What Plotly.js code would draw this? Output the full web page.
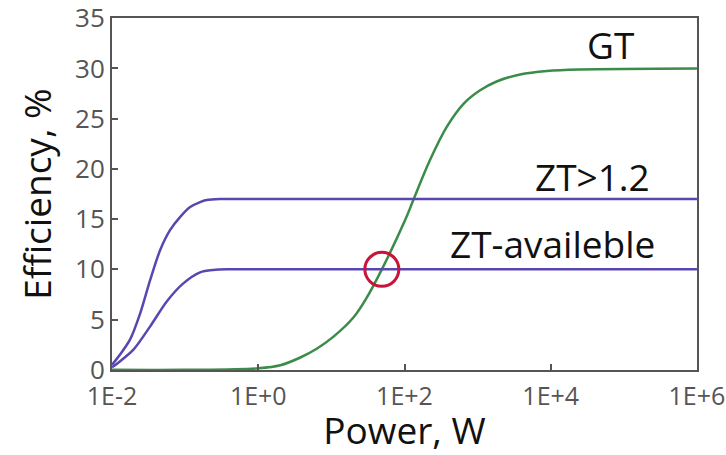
<!DOCTYPE html>
<html>
<head>
<meta charset="utf-8">
<script src="https://cdn.plot.ly/plotly-3.0.1.min.js"></script>
<style>html,body{margin:0;padding:0;background:#fff;}</style>
</head>
<body>
<div id="chart" style="width:726px;height:455px;"></div>
<script>
// Power (W) and efficiency (%)
const ztHighX = [0.01, 0.0128, 0.0176, 0.0242, 0.0331, 0.0454, 0.0621, 0.0851, 0.117, 0.160, 0.197, 0.30, 1, 1e6];
const ztHighY = [0.5, 1.5, 3.0, 5.6, 8.9, 11.9, 13.9, 15.2, 16.2, 16.7, 16.9, 17, 17, 17];

const ztAvailX = [0.01, 0.0128, 0.0196, 0.0331, 0.0560, 0.0944, 0.160, 0.243, 0.40, 1, 1e6];
const ztAvailY = [0.25, 0.83, 2.0, 4.3, 6.8, 8.6, 9.7, 9.94, 10, 10, 10];

const gtX = [0.01, 0.1, 1, 2, 3.7, 6.3, 10.7, 20, 30, 49, 102, 132, 224, 380, 646, 1070, 1820, 3800, 8900, 25000, 1e6];
const gtY = [0, 0, 0.15, 0.45, 1.2, 2.1, 3.3, 5.2, 7.1, 10, 14.9, 16.9, 20.9, 24.2, 26.5, 27.8, 28.7, 29.4, 29.75, 29.9, 30];

const crossX = [49];
const crossY = [10];

const xTickVals = [0.01, 1, 100, 1e4, 1e6];
const xTickText = ['1E-2', '1E+0', '1E+2', '1E+4', '1E+6'];
const yTickVals = [0, 5, 10, 15, 20, 25, 30, 35];

const purple = '#5a46b0';
const green = '#3a8c48';

const traces = [
  {x: gtX, y: gtY, mode: 'lines', line: {color: green, width: 2.5, shape: 'spline', smoothing: 1}, name: 'GT'},
  {x: ztHighX, y: ztHighY, mode: 'lines', line: {color: purple, width: 2.5, shape: 'spline', smoothing: 0.8}, name: 'ZT>1.2'},
  {x: ztAvailX, y: ztAvailY, mode: 'lines', line: {color: purple, width: 2.5, shape: 'spline', smoothing: 0.8}, name: 'ZT-availeble'},
  {x: crossX, y: crossY, mode: 'markers', marker: {symbol: 'circle-open', size: 34, color: '#c8143c', line: {width: 3, color: '#c8143c'}}, name: 'cross'}
];

const labelFont = {family: 'Open Sans, sans-serif', size: 37, color: '#111'};

const layout = {
  width: 726, height: 455,
  margin: {l: 112, r: 29, t: 18, b: 85},
  paper_bgcolor: '#fff', plot_bgcolor: '#fff',
  showlegend: false,
  font: {family: 'Open Sans, sans-serif'},
  xaxis: {
    type: 'log', range: [-2.0005, 6.0005],
    tickvals: xTickVals, ticktext: xTickText,
    ticks: 'inside', ticklen: 6, tickwidth: 2, tickcolor: '#555',
    ticklabeloverflow: 'allow', ticklabelstandoff: 3,
    showline: true, linecolor: '#555', linewidth: 2, mirror: true,
    showgrid: false, zeroline: false,
    tickfont: {size: 25, color: '#555', family: 'Open Sans, sans-serif'},
    title: {text: 'Power, W', font: {size: 37, color: '#111', family: 'Open Sans, sans-serif'}, standoff: 0},
    automargin: false
  },
  yaxis: {
    range: [-0.02, 35.02],
    tickvals: yTickVals,
    ticks: 'inside', ticklen: 6, tickwidth: 2, tickcolor: '#555',
    ticklabeloverflow: 'allow',
    showline: true, linecolor: '#555', linewidth: 2, mirror: true,
    showgrid: false, zeroline: false,
    tickfont: {size: 26, color: '#555', family: 'Open Sans, sans-serif'},
    title: {text: 'Efficiency, %', font: {size: 37, color: '#111', family: 'Open Sans, sans-serif'}, standoff: 12},
    automargin: false
  },
  annotations: [
    {text: 'GT', xref: 'paper', yref: 'paper', x: (610 - 112) / 585, y: (370 - 45) / 352, xanchor: 'center', yanchor: 'middle', showarrow: false, font: labelFont},
    {text: 'ZT>1.2', xref: 'paper', yref: 'paper', x: (592 - 112) / 585, y: (370 - 176) / 352, xanchor: 'center', yanchor: 'middle', showarrow: false, font: labelFont},
    {text: 'ZT-availeble', xref: 'paper', yref: 'paper', x: (552 - 112) / 585, y: (370 - 243) / 352, xanchor: 'center', yanchor: 'middle', showarrow: false, font: labelFont}
  ]
};

Plotly.newPlot('chart', traces, layout, {displayModeBar: false, staticPlot: true});
</script>
</body>
</html>
